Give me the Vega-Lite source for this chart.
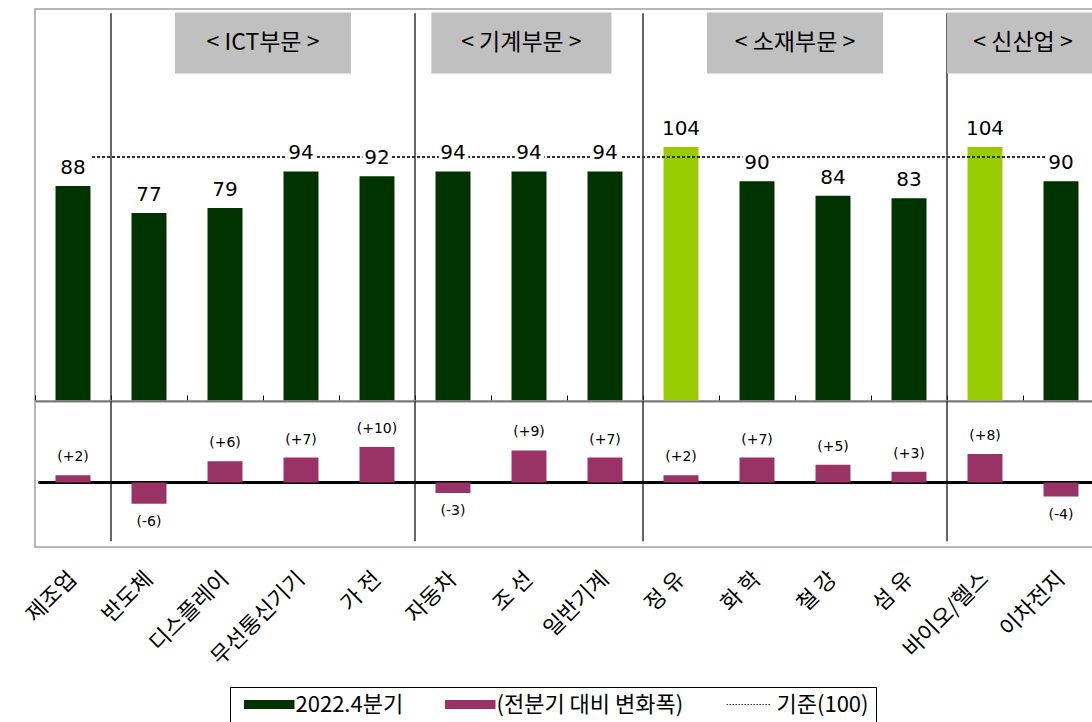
{
  "$schema": "https://vega.github.io/schema/vega-lite/v6.json",
  "background": "white",
  "padding": {"left": 21, "top": 8, "right": -5, "bottom": 1},
  "bounds": "flush",
  "spacing": 0,
  "config": {
    "view": {"stroke": "#a0a0a0", "strokeWidth": 1.5},
    "axis": {"grid": false},
    "font": "Noto Sans CJK KR",
    "legend": {
      "symbolType": "M-0.772,-0.158H1V0.158H-0.772Z", "symbolSize": 3249, "symbolStrokeWidth": 0,
      "labelFontSize": 22, "labelFont": "Noto Sans CJK KR", "labelColor": "#000",
      "labelLimit": 600, "labelOffset": 1, "columnPadding": 35, "padding": 7.5, "clipHeight": 20,
      "strokeColor": "#000", "fillColor": "#fff"
    }
  },
  "resolve": {"scale": {"color": "shared", "x": "independent", "y": "independent"}, "legend": {"color": "shared"}},
  "datasets": {
    "industries": [
      {"cat": "제조업", "value": 88, "change": 2},
      {"cat": "반도체", "value": 77, "change": -6},
      {"cat": "디스플레이", "value": 79, "change": 6},
      {"cat": "무선통신기기", "value": 94, "change": 7},
      {"cat": "가 전", "value": 92, "change": 10},
      {"cat": "자동차", "value": 94, "change": -3},
      {"cat": "조 선", "value": 94, "change": 9},
      {"cat": "일반기계", "value": 94, "change": 7},
      {"cat": "정 유", "value": 104, "change": 2},
      {"cat": "화 학", "value": 90, "change": 7},
      {"cat": "철 강", "value": 84, "change": 5},
      {"cat": "섬 유", "value": 83, "change": 3},
      {"cat": "바이오/헬스", "value": 104, "change": 8},
      {"cat": "이차전지", "value": 90, "change": -4}
    ],
    "sectors": [
      {"cat": "디스플레이", "name": "< ICT부문 >"},
      {"cat": "조 선", "name": "< 기계부문 >"},
      {"cat": "화 학", "name": "< 소재부문 >"},
      {"cat": "바이오/헬스", "name": "< 신산업 >"}
    ],
    "dividers": [
      {"cat": "반도체"},
      {"cat": "자동차"},
      {"cat": "정 유"},
      {"cat": "바이오/헬스"}
    ]
  },
  "vconcat": [
    {
      "width": 1064,
      "height": 392,
      "encoding": {
        "x": {
          "field": "cat", "type": "nominal", "sort": null,
          "scale": {"domain": ["제조업","반도체","디스플레이","무선통신기기","가 전","자동차","조 선","일반기계","정 유","화 학","철 강","섬 유","바이오/헬스","이차전지"], "paddingInner": 0, "paddingOuter": 0},
          "axis": {"orient": "bottom", "labels": false, "title": null, "ticks": true, "tickSize": -6, "tickColor": "#000", "tickWidth": 1, "bandPosition": 0, "domain": true, "domainColor": "#000", "domainWidth": 1.5}
        }
      },
      "layer": [
        {
          "data": {"name": "dividers"},
          "mark": {"type": "rule", "color": "#333", "strokeWidth": 1.5},
          "encoding": {
            "x": {
              "field": "cat", "type": "nominal", "sort": null, "bandPosition": 0,
              "scale": {"domain": ["제조업","반도체","디스플레이","무선통신기기","가 전","자동차","조 선","일반기계","정 유","화 학","철 강","섬 유","바이오/헬스","이차전지"], "paddingInner": 0, "paddingOuter": 0},
              "axis": {"orient": "bottom", "labels": false, "title": null, "ticks": true, "tickSize": -6, "tickColor": "#000", "tickWidth": 1, "bandPosition": 0, "domain": true, "domainColor": "#000", "domainWidth": 1.5}
            },
            "y": {"datum": 158.8, "type": "quantitative", "scale": {"domain": [0, 160.5], "nice": false, "zero": true}, "axis": null},
            "y2": {"datum": 0}
          }
        },
        {
          "data": {"name": "industries"},
          "mark": {"type": "bar", "width": {"band": 0.46}},
          "encoding": {
            "y": {"field": "value", "type": "quantitative", "scale": {"domain": [0, 160.5], "nice": false, "zero": true}, "axis": null},
            "color": {
              "condition": {"test": "datum.value >= 100", "value": "#99CC00"},
              "datum": "2022.4분기", "type": "nominal",
              "scale": {"domain": ["2022.4분기", "(전분기 대비 변화폭)", "기준(100)"], "range": ["#003300", "#993366", "#333333"]},
              "legend": {
                "orient": "none", "legendX": 195, "legendY": 678,
                "direction": "horizontal", "title": null,
                "strokeColor": "#000", "fillColor": "#fff", "padding": 7.5, "clipHeight": 20,
                "symbolSize": 3249, "symbolStrokeWidth": 0, "labelLimit": 600, "labelOffset": 1, "columnPadding": 35, "labelFontSize": 22,
                "encode": {
                  "symbols": {
                    "update": {
                      "size": {"value": 3249},
                      "strokeWidth": {"value": 0},
                      "shape": {"signal": "datum.value === '기준(100)' ? 'M-0.72,-0.018h0.053v0.036h-0.053ZM-0.615,-0.018h0.053v0.036h-0.053ZM-0.51,-0.018h0.053v0.036h-0.053ZM-0.405,-0.018h0.053v0.036h-0.053ZM-0.3,-0.018h0.053v0.036h-0.053ZM-0.195,-0.018h0.053v0.036h-0.053ZM-0.09,-0.018h0.053v0.036h-0.053ZM0.015,-0.018h0.053v0.036h-0.053ZM0.12,-0.018h0.053v0.036h-0.053ZM0.225,-0.018h0.053v0.036h-0.053ZM0.33,-0.018h0.053v0.036h-0.053ZM0.435,-0.018h0.053v0.036h-0.053ZM0.54,-0.018h0.053v0.036h-0.053ZM0.645,-0.018h0.053v0.036h-0.053ZM0.75,-0.018h0.053v0.036h-0.053Z' : 'M-0.772,-0.158H1V0.158H-0.772Z'"},
                      "fill": {"signal": "datum.value === '기준(100)' ? '#333333' : (datum.value === '2022.4분기' ? '#003300' : '#993366')"},
                      "opacity": {"value": 1}
                    }
                  }
                }
              }
            }
          }
        },
        {
          "data": {"name": "industries"},
          "mark": {"type": "rule", "strokeDash": [3, 2], "strokeWidth": 1},
          "encoding": {
            "y": {"datum": 100, "type": "quantitative"},
            "x": {"datum": "제조업", "bandPosition": 0.75},
            "x2": {"datum": "이차전지"},
            "color": {"datum": "기준(100)", "type": "nominal"}
          }
        },
        {
          "data": {"name": "industries"},
          "mark": {"type": "text", "font": "DejaVu Sans", "fontSize": 20, "baseline": "alphabetic", "dy": -12, "color": "#fff", "stroke": "#fff", "strokeWidth": 7},
          "encoding": {
            "y": {"field": "value", "type": "quantitative"},
            "text": {"field": "value", "type": "quantitative"}
          }
        },
        {
          "data": {"name": "industries"},
          "mark": {"type": "text", "font": "DejaVu Sans", "fontSize": 20, "baseline": "alphabetic", "dy": -12, "color": "#000"},
          "encoding": {
            "y": {"field": "value", "type": "quantitative"},
            "text": {"field": "value", "type": "quantitative"}
          }
        },
        {
          "data": {"name": "sectors"},
          "transform": [{"filter": "datum.name === '< ICT부문 >' || datum.name === '< 소재부문 >'"}],
          "mark": {"type": "point", "shape": "M-1,-0.3466H1V0.3466H-1Z", "size": 30976, "filled": true, "color": "#C0C0C0", "opacity": 1, "strokeWidth": 0},
          "encoding": {
            "x": {"field": "cat", "type": "nominal", "sort": null, "bandPosition": 1},
            "y": {"datum": 146.6, "type": "quantitative"}
          }
        },
        {
          "data": {"name": "sectors"},
          "transform": [{"filter": "datum.name === '< 기계부문 >'"}],
          "mark": {"type": "point", "shape": "M-1,-0.3389H1V0.3389H-1Z", "size": 32400, "filled": true, "color": "#C0C0C0", "opacity": 1, "strokeWidth": 0},
          "encoding": {
            "x": {"field": "cat", "type": "nominal", "sort": null, "bandPosition": 0.4},
            "y": {"datum": 146.6, "type": "quantitative"}
          }
        },
        {
          "data": {"name": "sectors"},
          "transform": [{"filter": "datum.name === '< 신산업 >'"}],
          "mark": {"type": "point", "shape": "M-1,-0.4013H1V0.4013H-1Z", "size": 23104, "filled": true, "color": "#C0C0C0", "opacity": 1, "strokeWidth": 0},
          "encoding": {
            "x": {"field": "cat", "type": "nominal", "sort": null, "bandPosition": 1},
            "y": {"datum": 146.6, "type": "quantitative"}
          }
        },
        {
          "data": {"name": "sectors"},
          "transform": [{"filter": "datum.name !== '< 기계부문 >'"}],
          "mark": {"type": "text", "fontSize": 23, "font": "Noto Sans CJK KR", "baseline": "middle", "align": "center", "color": "#000"},
          "encoding": {
            "x": {"field": "cat", "type": "nominal", "sort": null, "bandPosition": 1},
            "y": {"datum": 146.5, "type": "quantitative"},
            "text": {"field": "name", "type": "nominal"}
          }
        },
        {
          "data": {"name": "sectors"},
          "transform": [{"filter": "datum.name === '< 기계부문 >'"}],
          "mark": {"type": "text", "fontSize": 23, "font": "Noto Sans CJK KR", "baseline": "middle", "align": "center", "color": "#000"},
          "encoding": {
            "x": {"field": "cat", "type": "nominal", "sort": null, "bandPosition": 0.4},
            "y": {"datum": 146.5, "type": "quantitative"},
            "text": {"field": "name", "type": "nominal"}
          }
        }
      ]
    },
    {
      "width": 1064,
      "height": 146,
      "encoding": {
        "x": {
          "field": "cat", "type": "nominal", "sort": null,
          "scale": {"domain": ["제조업","반도체","디스플레이","무선통신기기","가 전","자동차","조 선","일반기계","정 유","화 학","철 강","섬 유","바이오/헬스","이차전지"], "paddingInner": 0, "paddingOuter": 0},
          "axis": {"orient": "bottom", "title": null, "ticks": false, "domain": false, "labelAngle": -45, "labelBaseline": "middle", "labelFontSize": 22, "labelFont": "Noto Sans CJK KR", "labelColor": "#000", "labelPadding": 28}
        }
      },
      "layer": [
        {
          "data": {"name": "dividers"},
          "mark": {"type": "rule", "color": "#333", "strokeWidth": 1.5},
          "encoding": {
            "x": {
              "field": "cat", "type": "nominal", "sort": null, "bandPosition": 0,
              "scale": {"domain": ["제조업","반도체","디스플레이","무선통신기기","가 전","자동차","조 선","일반기계","정 유","화 학","철 강","섬 유","바이오/헬스","이차전지"], "paddingInner": 0, "paddingOuter": 0},
              "axis": {"orient": "bottom", "title": null, "ticks": false, "domain": false, "labelAngle": -45, "labelBaseline": "middle", "labelFontSize": 22, "labelFont": "Noto Sans CJK KR", "labelColor": "#000", "labelPadding": 28}
            },
            "y": {"datum": 22.95, "type": "quantitative", "scale": {"domain": [-18.2, 22.95], "nice": false, "zero": false}, "axis": null},
            "y2": {"datum": -16.6}
          }
        },
        {
          "data": {"name": "industries"},
          "mark": {"type": "rule", "color": "#000", "strokeWidth": 1.5},
          "encoding": {
            "x": {"datum": "제조업", "bandPosition": 0.05},
            "x2": {"datum": "이차전지", "bandPosition": 1},
            "y": {"datum": 0, "type": "quantitative"}
          }
        },
        {
          "data": {"name": "industries"},
          "mark": {"type": "bar", "width": {"band": 0.46}},
          "encoding": {
            "y": {"field": "change", "type": "quantitative"},
            "color": {"datum": "(전분기 대비 변화폭)", "type": "nominal"}
          }
        },
        {
          "data": {"name": "industries"},
          "transform": [{"filter": "datum.change > 0"}],
          "mark": {"type": "text", "font": "DejaVu Sans", "fontSize": 14, "baseline": "alphabetic", "dy": -14, "color": "#000", "text": {"expr": "'(+' + datum.change + ')'"}},
          "encoding": {
            "y": {"field": "change", "type": "quantitative"}
          }
        },
        {
          "data": {"name": "industries"},
          "transform": [{"filter": "datum.change < 0"}],
          "mark": {"type": "text", "font": "DejaVu Sans", "fontSize": 14, "baseline": "top", "dy": 11, "color": "#000", "text": {"expr": "'(' + datum.change + ')'"}},
          "encoding": {
            "y": {"field": "change", "type": "quantitative"}
          }
        }
      ]
    }
  ]
}
